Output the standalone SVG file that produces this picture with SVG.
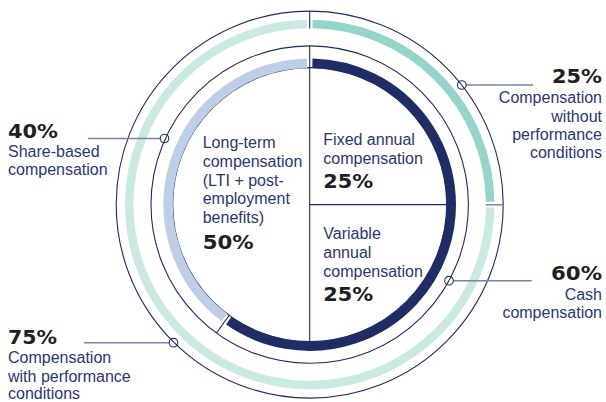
<svg xmlns="http://www.w3.org/2000/svg" width="606" height="402" viewBox="0 0 606 402">
<style>
.thin{fill:none;stroke:#1f2d66;stroke-width:1.1}
.band{fill:none}
.callout{fill:none;stroke:#7a84a8;stroke-width:1.5}
.dot{fill:none;stroke:#1f2d66;stroke-width:1.1}
.lbl{font-family:"Liberation Sans",Arial,sans-serif;font-size:16px;fill:#293872}
.pct{font-family:"DejaVu Sans",Verdana,sans-serif;font-weight:bold;font-size:19.5px;fill:#231f20}
.end{text-anchor:end}
</style>
<rect width="606" height="402" fill="#ffffff"/>
<g id="rings">
<circle class="thin" cx="309.7" cy="204.6" r="193.5"/>
<circle class="thin" cx="309.7" cy="204.6" r="158.7"/>
<circle class="thin" cx="309.7" cy="204.6" r="137"/>
<path id="seg-without-perf" class="band" stroke="#93d5ca" stroke-width="8.5" d="M312.54,24.12 A180.5,180.5 0 0 1 490.18,201.77"/>
<path id="seg-with-perf" class="band" stroke="#c9e9e3" stroke-width="8.5" d="M490.18,207.43 A180.5,180.5 0 1 1 306.86,24.12"/>
<path id="seg-cash" class="band" stroke="#1f2d66" stroke-width="9.5" d="M312.42,63.13 A141.5,141.5 0 1 1 228.74,320.65"/>
<path id="seg-share" class="band" stroke="#bdcfe7" stroke-width="9.5" d="M224.35,317.46 A141.5,141.5 0 0 1 306.98,63.13"/>
</g>
<g id="connectors">
<line class="thin" x1="309.7" y1="11.1" x2="309.7" y2="28.6"/>
<line class="thin" x1="309.7" y1="45.9" x2="309.7" y2="341.6"/>
<line class="thin" x1="309.7" y1="204.6" x2="446.7" y2="204.6"/>
<line class="thin" x1="229.17" y1="315.44" x2="216.42" y2="332.99"/>
<line class="callout" x1="485.7" y1="204.8" x2="503.2" y2="204.8"/>
<line class="callout" x1="466.1" y1="85" x2="533" y2="85"/>
<line class="callout" x1="88" y1="138.5" x2="160.2" y2="138.5"/>
<line class="callout" x1="453.3" y1="280.7" x2="531.7" y2="280.7"/>
<line class="callout" x1="84" y1="342.7" x2="169.2" y2="342.7"/>
<circle class="dot" cx="461.8" cy="85" r="4.3"/>
<circle class="dot" cx="164.5" cy="138.5" r="4.3"/>
<circle class="dot" cx="449" cy="280.7" r="4.3"/>
<circle class="dot" cx="173.5" cy="342.7" r="4.3"/>
</g>
<g id="node-longterm">
<text class="lbl" x="202.7" y="148.3">Long-term</text>
<text class="lbl" x="202.7" y="166.9">compensation</text>
<text class="lbl" x="202.7" y="185.5">(LTI + post-</text>
<text class="lbl" x="202.7" y="204.1">employment</text>
<text class="lbl" x="202.7" y="222.7">benefits)</text>
<text class="pct" x="202.7" y="249" textLength="51" lengthAdjust="spacingAndGlyphs">50%</text>
</g>
<g id="node-fixed">
<text class="lbl" x="323.3" y="145">Fixed annual</text>
<text class="lbl" x="323.3" y="164">compensation</text>
<text class="pct" x="323.3" y="188.3" textLength="50" lengthAdjust="spacingAndGlyphs">25%</text>
</g>
<g id="node-variable">
<text class="lbl" x="323.3" y="239">Variable</text>
<text class="lbl" x="323.3" y="258">annual</text>
<text class="lbl" x="323.3" y="276.7">compensation</text>
<text class="pct" x="323.3" y="300.7" textLength="50" lengthAdjust="spacingAndGlyphs">25%</text>
</g>
<g id="node-without-perf">
<text class="pct end" x="602" y="83.3" textLength="50" lengthAdjust="spacingAndGlyphs">25%</text>
<text class="lbl end" x="602" y="103.3">Compensation</text>
<text class="lbl end" x="602" y="121.7">without</text>
<text class="lbl end" x="602" y="140">performance</text>
<text class="lbl end" x="602" y="158.3">conditions</text>
</g>
<g id="node-share">
<text class="pct" x="8" y="138.3" textLength="50" lengthAdjust="spacingAndGlyphs">40%</text>
<text class="lbl" x="8" y="156.7">Share-based</text>
<text class="lbl" x="8" y="175">compensation</text>
</g>
<g id="node-cash">
<text class="pct end" x="602" y="280" textLength="51" lengthAdjust="spacingAndGlyphs">60%</text>
<text class="lbl end" x="602" y="300">Cash</text>
<text class="lbl end" x="602" y="318.3">compensation</text>
</g>
<g id="node-with-perf">
<text class="pct" x="8" y="344" textLength="49" lengthAdjust="spacingAndGlyphs">75%</text>
<text class="lbl" x="8" y="363.3">Compensation</text>
<text class="lbl" x="8" y="381.7">with performance</text>
<text class="lbl" x="8" y="399.3">conditions</text>
</g>
</svg>
